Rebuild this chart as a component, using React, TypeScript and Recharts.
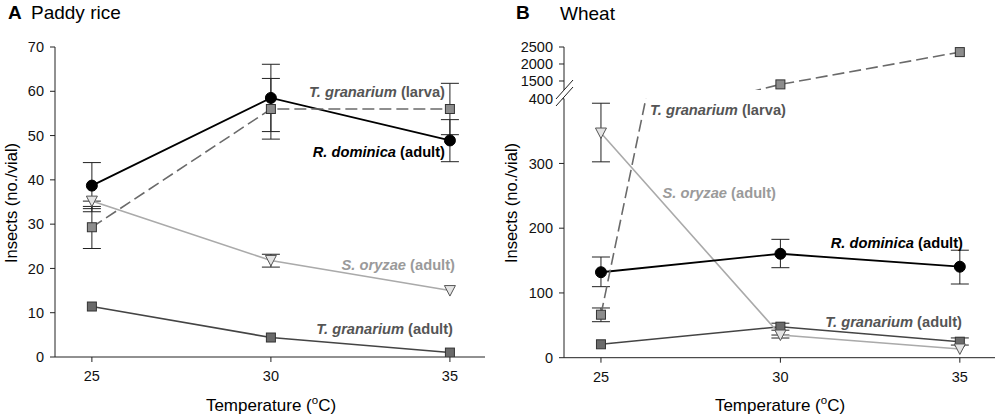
import React from 'react';
import { LineChart, Line, XAxis, YAxis, ErrorBar } from 'recharts';

const FONT = '"Liberation Sans", Arial, Helvetica, sans-serif';

// Categories (temperature, °C)
const temps = [25, 30, 35];
const xTicks = [25, 30, 35];

// Panel A – Paddy rice
const rdA = [38.7, 58.5, 48.9];
const rdALow = [33.5, 50.9, 44.1];
const rdAHigh = [43.9, 66.1, 53.6];
const larvaA = [29.3, 56.0, 56.0];
const larvaALow = [24.5, 49.2, 50.2];
const larvaAHigh = [34.0, 62.9, 61.8];
const soA = [35.2, 21.8, 15.0];
const soALow = [32.8, 20.3, null];
const soAHigh = [35.2, 23.2, null];
const tgA = [11.4, 4.4, 1.0];
const tgALow = [null, null, null];
const tgAHigh = [null, null, null];
const yTicksA = [0, 10, 20, 30, 40, 50, 60, 70];

// Panel B – Wheat
const rdB = [132, 160.5, 140.5];
const rdBLow = [109.7, 139, 113.8];
const rdBHigh = [155.5, 182.8, 166];
const larvaB = [66.4, 1400, 2350];
const larvaBLow = [55.6, null, null];
const larvaBHigh = [76.8, null, null];
const soB = [347, 35, 13.5];
const soBLow = [302.5, 30.4, null];
const soBHigh = [393, 35, null];
const tgB = [20.7, 47.9, 24.7];
const tgBLow = [null, 42.5, 19.5];
const tgBHigh = [null, 53.3, 30.5];
const yTicksBLower = [0, 100, 200, 300, 400];
const yTicksBUpper = [1500, 2000, 2500];

type N = number | null;
const makeData = (vals: number[], low: N[], high: N[]) =>
  temps.map((t, i) => ({
    x: t,
    y: vals[i],
    err: low[i] == null || high[i] == null ? null : [vals[i] - (low[i] as number), (high[i] as number) - vals[i]],
  }));

const circleDot = (props: any) => {
  const { cx, cy, index } = props;
  if (cx == null || cy == null) return <g key={index} />;
  return <circle key={index} cx={cx} cy={cy} r={5.5} fill="#000" stroke="#000" strokeWidth={1} />;
};
const squareDot = (fill: string) => (props: any) => {
  const { cx, cy, index } = props;
  if (cx == null || cy == null) return <g key={index} />;
  return <rect key={index} x={cx - 4.5} y={cy - 4.5} width={9} height={9} fill={fill} stroke="#333" strokeWidth={1} />;
};
const triDot = (props: any) => {
  const { cx, cy, index } = props;
  if (cx == null || cy == null) return <g key={index} />;
  return (
    <path
      key={index}
      d={`M${cx - 5.5},${cy - 5} L${cx + 5.5},${cy - 5} L${cx},${cy + 5.5} Z`}
      fill="#e4e4e4"
      stroke="#555"
      strokeWidth={1}
    />
  );
};

const tickStyle = { fill: '#111', fontSize: 14.5, fontFamily: FONT };
const AXIS = '#222';
const DASH = '12 5';
const LABEL_SIZE = 14.7;

const errBar = (
  <ErrorBar dataKey="err" width={9} stroke="#222" strokeWidth={1} direction="y" isAnimationActive={false} />
);

function seriesLines(rd: any[], larva: any[], so: any[], tg: any[]) {
  return [
    <Line key="tg" data={tg} dataKey="y" type="linear" stroke="#444" strokeWidth={1.6} dot={squareDot('#6a6a6a')} activeDot={false} isAnimationActive={false}>
      {errBar}
    </Line>,
    <Line key="so" data={so} dataKey="y" type="linear" stroke="#aaa" strokeWidth={1.6} dot={triDot} activeDot={false} isAnimationActive={false}>
      {errBar}
    </Line>,
    <Line key="rd" data={rd} dataKey="y" type="linear" stroke="#000" strokeWidth={1.8} dot={circleDot} activeDot={false} isAnimationActive={false}>
      {errBar}
    </Line>,
    <Line key="larva" data={larva} dataKey="y" type="linear" stroke="#6a6a6a" strokeWidth={1.6} strokeDasharray={DASH} dot={squareDot('#8c8c8c')} activeDot={false} isAnimationActive={false}>
      {errBar}
    </Line>,
  ];
}

const TempLabel = ({ x }: { x: number }) => (
  <text x={x} y={411} textAnchor="middle" fontSize={17} fill="#000">
    Temperature (<tspan dy={-7} fontSize={11.5}>o</tspan><tspan dy={7}>C)</tspan>
  </text>
);

const SeriesLabel = ({ x, y, name, stage, fill }: { x: number; y: number; name: string; stage: string; fill: string }) => (
  <text x={x} y={y} textAnchor="end" fontSize={LABEL_SIZE} fontWeight="bold" fill={fill}>
    <tspan fontStyle="italic">{name}</tspan> ({stage})
  </text>
);

export default function App() {
  const dRdA = makeData(rdA, rdALow, rdAHigh);
  const dLarvaA = makeData(larvaA, larvaALow, larvaAHigh);
  const dSoA = makeData(soA, soALow, soAHigh);
  const dTgA = makeData(tgA, tgALow, tgAHigh);
  const dRdB = makeData(rdB, rdBLow, rdBHigh);
  const dLarvaB = makeData(larvaB, larvaBLow, larvaBHigh);
  const dSoB = makeData(soB, soBLow, soBHigh);
  const dTgB = makeData(tgB, tgBLow, tgBHigh);

  const xDomain: [number, number] = [23.97, 35.98];

  return (
    <div style={{ position: 'absolute', left: 0, top: 0, width: 1000, height: 419, background: '#fff', fontFamily: FONT, overflow: 'hidden' }}>
      {/* Panel A */}
      <div style={{ position: 'absolute', left: 0, top: 0 }}>
        <LineChart width={500} height={419} margin={{ top: 47, right: 15, left: 0, bottom: 0 }}>
          <XAxis type="number" dataKey="x" domain={xDomain} ticks={xTicks} allowDataOverflow tickSize={5} tickMargin={9} height={62} stroke={AXIS} tick={tickStyle} />
          <YAxis type="number" domain={[0, 70]} ticks={yTicksA} allowDataOverflow tickSize={5} tickMargin={6} width={55} stroke={AXIS} tick={tickStyle} interval={0} />
          {seriesLines(dRdA, dLarvaA, dSoA, dTgA)}
        </LineChart>
      </div>

      {/* Panel B – upper segment (broken axis) */}
      <div style={{ position: 'absolute', left: 500, top: 0 }}>
        <LineChart width={500} height={90} margin={{ top: 47, right: 5, left: 0, bottom: 0 }}>
          <XAxis type="number" dataKey="x" domain={xDomain} ticks={xTicks} allowDataOverflow hide />
          <YAxis type="number" domain={[1235, 2500]} ticks={yTicksBUpper} allowDataOverflow tickSize={5} tickMargin={6} width={64} stroke={AXIS} tick={tickStyle} interval={0} />
          <Line data={dLarvaB} dataKey="y" type="linear" stroke="#6a6a6a" strokeWidth={1.6} strokeDasharray={DASH} dot={squareDot('#8c8c8c')} activeDot={false} isAnimationActive={false} />
        </LineChart>
      </div>

      {/* Panel B – lower segment */}
      <div style={{ position: 'absolute', left: 500, top: 0 }}>
        <LineChart width={500} height={419} margin={{ top: 98.7, right: 5, left: 0, bottom: 0 }}>
          <XAxis type="number" dataKey="x" domain={xDomain} ticks={xTicks} allowDataOverflow tickSize={5} tickMargin={9} height={61.3} stroke={AXIS} tick={tickStyle} />
          <YAxis type="number" domain={[0, 400]} ticks={yTicksBLower} allowDataOverflow tickSize={5} tickMargin={6} width={64} stroke={AXIS} tick={tickStyle} interval={0} />
          {seriesLines(dRdB, dLarvaB, dSoB, dTgB)}
        </LineChart>
      </div>

      {/* Annotations */}
      <svg width={1000} height={419} style={{ position: 'absolute', left: 0, top: 0, pointerEvents: 'none' }} fontFamily={FONT}>
        {/* titles */}
        <text x={8} y={19} fontSize={19} fontWeight="bold" fill="#000">A</text>
        <text x={31} y={19} fontSize={19} fill="#000">Paddy rice</text>
        <text x={516} y={19} fontSize={19} fontWeight="bold" fill="#000">B</text>
        <text x={560} y={20} fontSize={19} fill="#000">Wheat</text>

        {/* y axis labels */}
        <text transform="translate(11,203) rotate(-90)" textAnchor="middle" dominantBaseline="central" fontSize={16.5} fill="#000">Insects (no./vial)</text>
        <text transform="translate(511,203) rotate(-90)" textAnchor="middle" dominantBaseline="central" fontSize={16.5} fill="#000">Insects (no./vial)</text>

        {/* x axis labels */}
        <TempLabel x={271} />
        <TempLabel x={780} />

        {/* series labels A */}
        <SeriesLabel x={445} y={97} name="T. granarium" stage="larva" fill="#555" />
        <SeriesLabel x={445} y={157} name="R. dominica" stage="adult" fill="#000" />
        <SeriesLabel x={455} y={270} name="S. oryzae" stage="adult" fill="#9a9a9a" />
        <SeriesLabel x={453} y={334} name="T. granarium" stage="adult" fill="#555" />

        {/* series labels B */}
        <SeriesLabel x={786} y={115} name="T. granarium" stage="larva" fill="#555" />
        <SeriesLabel x={776} y={198} name="S. oryzae" stage="adult" fill="#9a9a9a" />
        <SeriesLabel x={963} y={248} name="R. dominica" stage="adult" fill="#000" />
        <SeriesLabel x={962} y={327} name="T. granarium" stage="adult" fill="#555" />

        {/* axis break marks */}
        <polygon points="556,99 573,80 573,87 556,106" fill="#fff" stroke="none" />
        <line x1={556} y1={99} x2={573} y2={80} stroke="#222" strokeWidth={1} />
        <line x1={556} y1={106} x2={573} y2={87} stroke="#222" strokeWidth={1} />
      </svg>
    </div>
  );
}
